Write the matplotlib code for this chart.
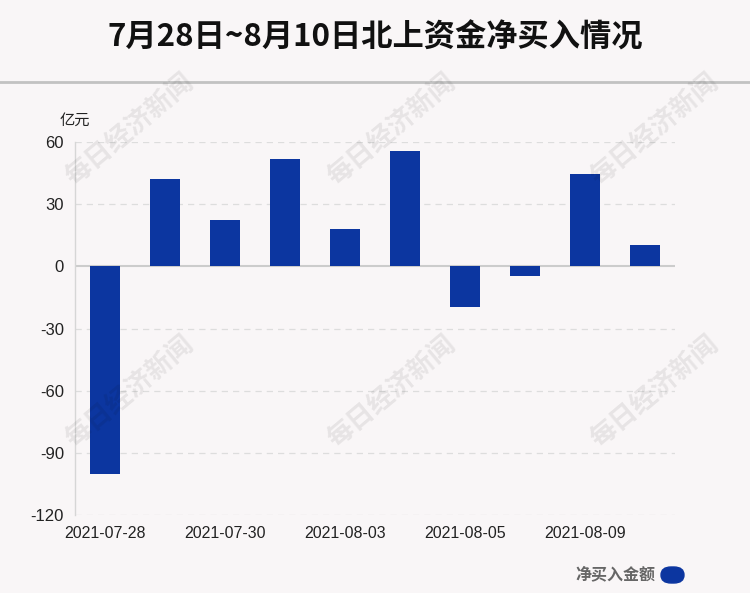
import matplotlib
matplotlib.use("Agg")
import matplotlib.pyplot as plt
from matplotlib.patches import FancyBboxPatch
import numpy as np

dates = ["2021-07-28", "2021-07-29", "2021-07-30", "2021-08-02", "2021-08-03",
         "2021-08-04", "2021-08-05", "2021-08-06", "2021-08-09", "2021-08-10"]
values = [-100.0, 42.0, 22.3, 51.7, 17.9, 55.6, -19.4, -4.8, 44.4, 10.2]
yticks = [-120, -90, -60, -30, 0, 30, 60]

BG = "#f9f6f7"
BAR = "#0c36a0"
CJK = ["Noto Sans CJK SC", "DejaVu Sans"]

fig = plt.figure(figsize=(7.5, 5.93), dpi=100, facecolor=BG)
ax = fig.add_axes([0.1, 0.1315, 0.8, 0.629])
ax.set_facecolor(BG)

x = np.arange(len(dates))
ax.bar(x, values, width=0.5, color=BAR, zorder=3)
ax.set_xlim(-0.5, len(dates) - 0.5)
ax.set_ylim(-120, 60)
ax.set_yticks(yticks)
ax.set_yticklabels([str(v) for v in yticks], family="Liberation Sans", fontsize=12, color="#222222")
ax.set_xticks(x[::2])
ax.set_xticklabels(dates[::2], family="Liberation Sans", fontsize=11.5, color="#222222")
ax.tick_params(axis="both", length=0)
ax.tick_params(axis="y", pad=8)
ax.tick_params(axis="x", pad=8)
for v in yticks:
    if v != 0:
        ax.axhline(v, color="#dddddd", lw=0.9, ls=(0, (5, 4)), zorder=1)
ax.axhline(0, color="#cccccc", lw=1.5, zorder=2)
for s in ["top", "right", "bottom"]:
    ax.spines[s].set_visible(False)
ax.spines["left"].set_color("#d6d6d6")
ax.spines["left"].set_linewidth(1)

# unit label
fig.text(75 / 750, 1 - 120 / 593, "亿元", family=CJK, fontsize=11, ha="center", va="center", color="#222222")

# title
fig.text(0.5, 1 - 38 / 593, "7月28日~8月10日北上资金净买入情况", family=CJK, fontsize=22.5,
         fontweight="bold", ha="center", va="center", color="#111111")
# separator line
fig.add_artist(plt.Line2D([0, 1], [1 - 82 / 593, 1 - 82 / 593], color="#c2c2c2", lw=2))

# watermarks
for (wx, wy) in [(130, 130), (392, 130), (655, 130), (130, 392), (392, 392), (655, 392)]:
    fig.text(wx / 750, 1 - wy / 593, "每日经济新闻", family=CJK, fontsize=19, fontweight="bold",
             color="#000000", alpha=0.075, rotation=40, ha="center", va="center", zorder=10)

# legend
fig.text(655 / 750, 1 - 574 / 593, "净买入金额", family=CJK, fontsize=11.5, fontweight="bold",
         ha="right", va="center", color="#666666")
pill = FancyBboxPatch((661 / 750, 1 - 583 / 593), 23 / 750, 16 / 593,
                      boxstyle="round,pad=0,rounding_size=0.0135", transform=fig.transFigure,
                      color=BAR)
fig.add_artist(pill)

fig.savefig("out.png", dpi=100, facecolor=BG)
